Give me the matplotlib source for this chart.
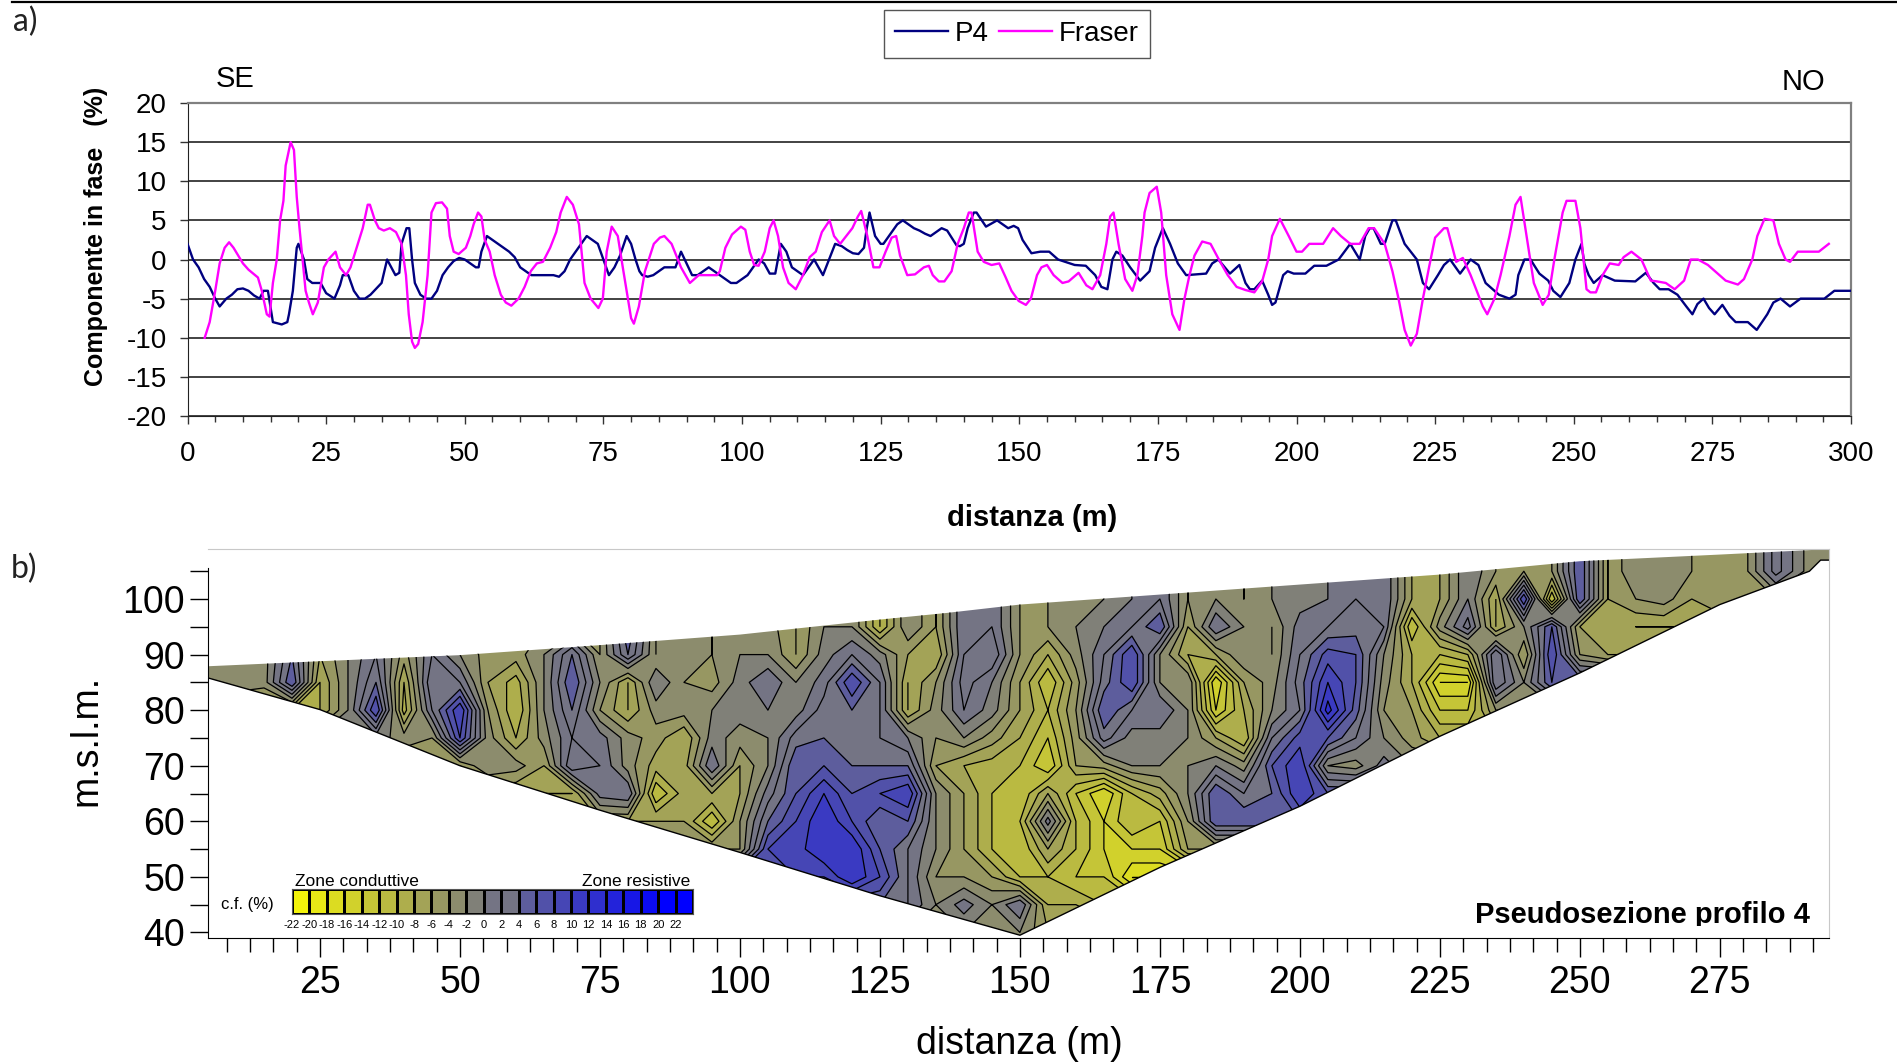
import numpy as np
import matplotlib
matplotlib.use('Agg')
import matplotlib.pyplot as plt
from matplotlib.colors import LinearSegmentedColormap
from matplotlib.patches import Polygon
from matplotlib.lines import Line2D
from matplotlib.transforms import Bbox

W, H = 1897, 1063
plt.rcParams['font.family'] = ['Liberation Sans', 'DejaVu Sans']
plt.rcParams['axes.unicode_minus'] = False

# ---- panel a) profile readings
p4_x = [0,1,2,3,4,5,5.8,7,8,9,10,11,12,13,13.7,14.5,15.4,17,18,18.3,19,19.7,20,21,21.6,22.5,24,25,26.5,27.5,28,29,30,31,32,33,35,
        36,37.5,38.2,38.6,39.5,40,40.5,41,42,43,44,45,46,47,48,49,50,51,52,52.5,53,54,55,56,57,58,59,60,61,62,66,67,68,69,70,71,72,
        73,74,75,76,77,78,79.2,80,80.8,81.5,82,83,84,85,86,88,88.5,89,90,91,92,93,94,95,96,97,98,99,100,101,102,103,104,105,
        106,107,108,109,110,111,113,114.6,116.8,118,119,120,121,122,122.5,123,124,125,125.5,127,128,129,130,131,132,133,134,135,136,137,
        138.7,139.3,140,140.7,141.8,142.3,144,146,148,149,149.8,150.6,152.2,153.8,155.4,157,160,162,163.7,164.8,165.9,166.8,167.5,168.6,
        170,171.8,173.5,174.5,175.9,177.2,178.6,180.1,183.7,184.8,185.9,188,189.7,190.8,191.6,192.4,193.8,194.9,195.6,196.2,197.6,198.4,
        199.5,201.6,203.2,205.4,207.6,209.7,211.4,212.4,213.2,213.9,215.2,215.9,217.3,217.9,219.5,220.6,221.7,222.8,223.9,225.5,226.6,
        227.7,229.5,231.4,232.8,234.1,236.5,238.4,239.5,240,241.1,242.2,243.8,245.4,246.3,247.6,249.2,250.3,251.4,251.9,252.7,253.6,
        255.2,257.4,261.1,263,264.4,265.5,267.1,268.7,270.3,271.4,272.3,273.4,274.4,275.4,276.8,278.1,279.2,281.4,283,284.9,286,287.3,
        289,290.9,295.2,297,300]
p4_y = [2,0,-1,-2.5,-3.5,-5,-6,-5,-4.5,-3.8,-3.7,-4,-4.6,-5,-4,-4,-8,-8.3,-8,-7,-4,1.5,2,0,-2.5,-3,-3,-4.3,-5,-3.3,-2,-2,-4,-5,-5,-4.5,-3,
        0,-2,-1.7,2,4,4,0,-3,-4.5,-5,-5,-4,-2,-1,-0.2,0.2,0,-0.5,-1,-1,1,3,2.5,2,1.5,1,0.3,-1,-1.5,-2,-2,-2.2,-1.5,0,1,2,3,
        2.5,2,0,-2,-1,0.5,3,2,0,-1.5,-2,-2.2,-2,-1.5,-1,-1,0,1,-0.5,-2,-2,-1.5,-1,-1.5,-2,-2.5,-3,-3,-2.5,-2,-1,0,-0.5,-1.8,
        -1.8,2,1,-1,-1.5,-2,0,-2,2,1.7,1.2,0.8,0.7,1.5,4,6,3,2,2,3.5,4.5,5,4.5,4,3.7,3.3,3,3.5,4,3.7,
        1.8,1.7,2,4,6,6,4.2,5,4,4.3,4,2.5,0.8,1,1,0,-0.7,-0.8,-2,-3.5,-3.8,0,1,0.5,
        -1,-2.7,-1.5,1.5,4,2,-0.5,-2,-1.8,-0.5,0,-1.8,-0.7,-3,-3.8,-3.8,-2.7,-4.5,-5.8,-5.5,-2,-1.5,
        -1.8,-1.8,-0.8,-0.8,0,2,0,3,4,4,2,2,5,5,2,1,0,-3,-3.8,-2,-0.7,
        0,-1.8,0,-0.7,-3,-4.5,-5,-4.5,-2,0,0,-1.8,-2.7,-4,-4.8,-3,0,2,-0.5,-2,-3,
        -2,-2.7,-2.8,-1.7,-3,-3.8,-3.8,-4.5,-6,-7,-5.7,-5,-6.2,-7,-5.8,-7.2,-8,-8,-9,-7,-5.5,-5,
        -6,-5,-5,-4,-4]

fraser_x = [3.1,4,5,5.8,6.7,7.5,8.3,10,11,12.7,13.4,14.3,14.8,15.4,16.1,16.7,17.3,17.7,18.6,19.2,19.7,20.2,21.3,21.9,22.6,23.5,24.6,25.4,
            26.7,27.5,28.6,29.4,30.5,31.6,32.5,32.9,33.8,34.5,35.4,36.5,37.6,38.6,39.4,39.9,40.5,41,41.6,42.4,43.3,44,44.8,45.9,46.8,47.3,
            48,48.9,50.2,51,51.6,52.4,53,53.6,54.5,55.4,56.5,57.4,58.4,59.7,60.8,61.9,63,64.1,65.4,66.5,67.3,68.4,69.5,70.6,71.6,72.7,74.1,
            74.9,75.6,76.5,77.6,78.5,79.2,80,80.5,81.4,82.5,84.1,85.2,86,87.3,89,90.6,92.2,95.5,96,97,98.2,99.8,100.6,101.4,102.2,103,104.1,
            105,105.7,106.5,107.4,108.4,109.7,111,112.2,113.3,114.4,115.8,116.6,117.7,118.8,119.9,120.9,121.5,122.6,123.7,124.8,125.9,127,
            127.8,128.5,129.8,131.2,132.8,133.7,134.4,135.5,136.5,137.8,138.9,140,140.9,141.4,142.5,143.6,145,146.4,147.5,148.6,149.9,151.2,
            152.1,153.2,154,155,156.2,157.8,158.9,160.7,162.1,163.2,164.6,165.7,166.4,167,167.9,169.1,170.4,171.3,172.2,172.6,173.5,174.8,
            175.6,176.5,177.6,178.9,179.8,180.7,181.6,183,184.5,186,187.6,189.2,190.8,192.4,193.8,194.9,195.6,197,198.6,200,201,202.3,204.8,
            206.6,208,209.7,211.4,213,214,215.9,217.3,218.4,219.5,220.6,221.7,222.8,223.9,225,226.6,227.2,228.8,230,231.4,232.5,233.6,234.4,
            235.7,236.8,238.4,239.5,240.4,241.5,242.8,244.4,245.5,246.5,248,248.7,250.3,251.2,252.3,253,254,255.2,256.5,258.1,259,260.4,262.2,
            263.9,265,266.6,268.2,269.9,271.1,272.4,274.2,277.4,279.6,280.7,282.2,283.1,284.4,286,287,288.2,289,290.4,294.2,296]
fraser_y = [-10,-8,-4,-0.5,1.5,2.2,1.5,-0.5,-1.3,-2.3,-4,-7,-7.3,-3,0,5,7.5,12,15,14,8,4,-4,-5.5,-7,-5.5,-1,0,
            1,-1,-2,-1,1.5,4,7,7,5,4,3.7,4,3.5,2,-2,-7,-10.5,-11.3,-10.8,-8,-2,6,7.2,7.3,6.5,3,
            1,0.7,1.5,3,4.5,6,5.5,2.5,1,-2,-4.5,-5.5,-5.9,-5,-3.5,-1.5,-0.5,-0.3,1.5,3.5,6,8,7,4.5,-3,-5,-6.2,
            -5,1,4.2,3,-1,-4,-7.5,-8.2,-6,-1.5,2,2.8,3,2,-1,-3,-2,-2,-1.5,1.5,3.2,4.2,3.8,1,-0.7,-0.8,1,
            4,5,3,-1,-3,-3.8,-2,0.3,1,3.5,5,3,2,3,4,5.5,6.2,3,-1,-1,1,2.8,
            3,0.5,-2,-1.9,-1,-0.8,-2,-2.8,-2.8,-1.5,2,4,6,6,1,-0.3,-0.7,-0.5,-2.2,-4,-5.3,-5.8,
            -5,-2,-1,-0.7,-2,-3,-2.8,-1.7,-3.3,-3.8,-2,2,5.5,6,2,-2.5,-4,-2,3,6,8.5,9.3,
            6,-2,-7,-9,-5,-2,0.5,2.3,2,0,-2,-3.5,-3.9,-4.2,-2.8,0,3,5.2,3,1,1,2,2,
            4,3,2,2,4,4,2,-1.5,-5,-9,-11,-9.5,-5,-1,2.8,4,4,-0.3,0.2,-2,-4,-6,-7,
            -5,-2,3,7,8,3,-3,-5.8,-4.5,0,6,7.5,7.5,4,-3.8,-4.2,-4.2,-2,-0.5,-0.7,0.3,1,0,
            -2.7,-2.8,-3,-3.8,-2.7,0,0,-0.7,-2.7,-3.2,-2.5,0,3,5.2,5,2,0,-0.3,1,1,2]

# ---- panel b) section values, read row by row (every 5 m along the line)
grid_x = np.arange(5, 300, 5)
row_elev = [35, 40, 45, 50, 55, 60, 65, 70, 75, 80, 85, 90, 95, 100, 105, 110]

start_40 = 145
z_40 = [-2, -2, -6]
start_45 = 125
z_45 = [4, 2, -2, 1, -2, 2, -8, -8, -10]
start_50 = 110
z_50 = [8, 8, 12, 8, 2, -4, -4, -6, -10, -10, -12, -12, -18]
start_55 = 100
z_55 = [-4, 8, 9, 12, 12, 6, 2, -2, -6, -10,
        -12, -6, -10, -14, -14, -14, -6]
start_60 = 90
z_60 = [-6, -12, -4, 4, 8, 12, 8, 4, 6, -2,
        -6, -10, -10, 1, -10, -14, -10, -12, -4, 6,
        6]
start_65 = 70
z_65 = [-8, 1, 2, -12, -7, -6, -6, 1, 6, 10,
        6, 8, 10, -2, -6, -10, -12, -6, -12, -16,
        -10, -7, -2, 6, 2, 4, 10, 6]
start_70 = 50
z_70 = [-6, -2, -3, -6, 4, 2, -3, -7, -7, 2,
        -6, -2, 6, 6, 4, 4, 4, -6, -8, -9,
        -10, -14, -6, -5, -2, -2, -2, 0, -3, 6,
        10, -2, -3, 1, -2]
start_75 = 35
z_75 = [-1, -3, -4, 8, -3, -8, -3, 2, 1, -3,
        -5, -8, -1, -3, -2, 3, 4, 4, 2, 0,
        -4, -2, -5, -8, -12, -5, 3, -1, -1, -2,
        -6, -10, 2, 7, 6, 2, -2, -5, -8]
start_80 = 25
z_80 = [-8, -2, 8, -9, 2, 10, -4, -10, -2, 4,
        -4, -8, -3, -3, -2, -1, 0, -1, 3, 4,
        2, -8, -3, 2, -1, -6, -10, -4, 6, 2,
        2, -2, -14, -8, -2, 2, 13, 5, -4, -6,
        -12, -12, -4]
start_85 = 10
z_85 = [-2, -3, 6, -8, -2, 4, -8, 4, 2, -6,
        -9, -2, 6, -2, -8, 0, -4, -5, -1, 2,
        -2, 1, 8, 2, -8, -4, 3, 0, -6, -12,
        -5, 3, 8, -2, -2, -16, -6, -3, 3, 10,
        6, -3, -8, -16, -16, 4, -2, 6]
start_90 = 5
z_90 = [-3, -3, -3, 4, -6, -2, 2, -5, 2, -2,
        -5, -5, -2, 4, -4, 4, -4, -2, -4, -2,
        -2, -6, -1, 2, -1, -6, -8, 2, 4, -4,
        -8, -3, 2, 8, -2, -8, -6, -2, -4, 2,
        7, 6, -2, -8, -10, -8, 4, -6, 8, -4,
        -6]
start_95 = 75
z_95 = [-4, 6, -4, -2, -4, -2, -3, -6,
        -2, -2, -10, -2, -6, 2, 2, -4, -4, -2,
        0, 2, 6, -6, 2, -2, -4, 1, 2, 3,
        2, -12, -3, 3, -8, -2, 6, -6, -6, -8]
start_100 = 115
z_100 = [-2, -2, -10, -2, -6, 2, 2, -4, -4, -2,
         -2, 0, 2, -4, -2, -4, -2, -1, 0, 2,
         2, -6, -6, 0, -8, 8, -12, 6, -6, -4,
         -3, -6, -4]
start_105 = 165
z_105 = [-2, 0, 2, -4, -2, -4, -2, -1, 0, 2,
         2, -6, -6, 0, -4, -4, -4, 6, -6, -2,
         -2, -4, -4, -4, 3, -2, -2]

row_start = [start_40, start_40, start_45, start_50, start_55, start_60, start_65, start_70,
             start_75, start_80, start_85, start_90, start_95, start_100, start_105, start_105]
row_vals = [z_40, z_40, z_45, z_50, z_55, z_60, z_65, z_70,
            z_75, z_80, z_85, z_90, z_95, z_100, z_105, z_105]

surface_x = [5, 25, 50, 75, 100, 125, 137, 150, 175, 200, 225, 250, 275, 293, 295]
surface_y = [87.9, 88.8, 89.9, 91.7, 93.6, 96.3, 97.5, 99, 100.8, 102.6, 104.4, 106.8, 108, 108.9, 109]
base_x = [5, 25, 50, 75, 100, 125, 150, 175, 200, 225, 250, 275, 291, 293, 295]
base_y = [85.8, 80.1, 70, 62, 54.4, 46.6, 39.5, 51.7, 62.7, 75.3, 86.7, 99, 105, 107, 107]

scale_vals = list(range(-22, 24, 2))
x2_major = list(range(25, 300, 25))
y2_major = list(range(40, 110, 10))
y2_minor = list(range(45, 110, 10))


def fx(p):
    return p / W


def fy(p):
    return 1 - p / H


def axes_px(left, top, right, bottom):
    return fig.add_axes([fx(left), fy(bottom), (right - left) / W, (bottom - top) / H])


fig = plt.figure(figsize=(W / 100, H / 100), dpi=100)

# rule on top of the page
fig.add_artist(Line2D([fx(12), 1], [fy(1.5), fy(1.5)], color='black', lw=1.6))
fig.text(fx(13), fy(22), 'a)', fontsize=23, family=['Lato', 'DejaVu Sans'], color='#222222', va='center')
fig.text(fx(11), fy(569), 'b)', fontsize=23, family=['Lato', 'DejaVu Sans'], color='#222222', va='center')

# ---- a)
ax = axes_px(187.5, 103, 1851, 416)
ax.plot(p4_x, p4_y, color='#000080', lw=1.7, label='P4', zorder=3)
ax.plot(fraser_x, fraser_y, color='#ff00ff', lw=1.7, label='Fraser', zorder=3)
ax.set_xlim(0, 300)
ax.set_ylim(-20, 20)
ax.set_yticks(range(-20, 25, 5))
ax.set_xticks(range(0, 325, 25))
ax.set_xticks(range(0, 305, 5), minor=True)
ax.tick_params(axis='both', which='major', labelsize=20, length=6, width=1, color='#333333', pad=9)
ax.tick_params(axis='x', which='major', pad=12)
ax.tick_params(axis='x', which='minor', length=4.5, width=1, color='#333333')
ax.grid(axis='y', color='#222222', lw=1.2)
ax.set_axisbelow(True)
for s in ['top', 'right']:
    ax.spines[s].set_color('#808080')
    ax.spines[s].set_linewidth(1.6)
for s in ['left', 'bottom']:
    ax.spines[s].set_color('#222222')

fig.text(fx(96), fy(236), 'Componente in fase   (%)', rotation=90, fontsize=18, fontweight='bold',
         ha='center', va='center')
fig.text(fx(1032), fy(518), 'distanza (m)', fontsize=21, fontweight='bold', ha='center', va='center')
fig.text(fx(235), fy(79), 'SE', fontsize=21, ha='center', va='center')
fig.text(fx(1803), fy(82), 'NO', fontsize=21, ha='center', va='center')
fig.legend(loc='center', bbox_to_anchor=(fx(1017), fy(34)), ncol=2, fontsize=20, fancybox=False,
           edgecolor='#555555', framealpha=1, borderpad=0.4, columnspacing=0.35, handlelength=1.9,
           handletextpad=0.25)

# ---- b)
bx = axes_px(208, 549, 1829, 938)
Z = np.zeros((len(row_elev), len(grid_x)))
for i, (st, vals) in enumerate(zip(row_start, row_vals)):
    j = (st - 5) // 5
    Z[i, :j] = vals[0]
    Z[i, j:j + len(vals)] = vals
    Z[i, j + len(vals):] = vals[-1]

cmap = LinearSegmentedColormap.from_list('cf', ['#ffff00', '#808078', '#0000ff'], N=23)
norm = plt.Normalize(-23, 23)
levels = np.arange(-22, 26, 2)
poly_x = surface_x + base_x[::-1]
poly_y = surface_y + base_y[::-1]
clip = Polygon(np.column_stack([poly_x, poly_y]), closed=True, transform=bx.transData,
               facecolor='none', edgecolor='none')
bx.add_patch(clip)
cf = bx.contourf(grid_x, row_elev, Z, levels=levels, cmap=cmap, norm=norm, extend='both')
cl = bx.contour(grid_x, row_elev, Z, levels=levels, colors='black', linewidths=0.9,
                negative_linestyles='solid')
cf.set_clip_path(clip)
cl.set_clip_path(clip)
bx.plot(base_x, base_y, color='black', lw=1)

bx.set_xlim(5, 294.5)
bx.set_ylim(39, 109)
bx.set_xticks(x2_major)
bx.set_xticks(np.arange(2, 71) * 25 / 6, minor=True)
bx.set_yticks(y2_major)
bx.set_yticks(y2_minor, minor=True)
bx.tick_params(axis='both', which='major', labelsize=27)
bx.tick_params(axis='x', which='major', length=13.5, width=1, pad=6)
bx.tick_params(axis='x', which='minor', length=10, width=1)
bx.tick_params(axis='y', which='both', length=13, width=1)
bx.spines['left'].set_bounds(39, 105.5)
for s in ['top', 'right']:
    bx.spines[s].set_color('#c8c8c8')

fig.text(fx(1019), fy(1044), 'distanza (m)', fontsize=27, ha='center', va='center')
fig.text(fx(86), fy(740), 'm.s.l.m.', rotation=90, fontsize=27, ha='center', va='center')
t = fig.text(fx(1810), fy(915), 'Pseudosezione profilo 4', fontsize=21, fontweight='bold', ha='right', va='center')
t.set_clip_box(Bbox([[0, H - 926], [W, H]]))
t.set_clip_on(True)

# scale strip
sx = axes_px(292, 889, 693, 914)
edges = np.array(scale_vals + [24])
sx.pcolormesh(edges, [0, 1], np.array([scale_vals]) + 1, cmap=cmap, norm=norm, edgecolors='black',
              linewidth=0.9)
sx.set_xlim(-22, 24)
sx.set_ylim(0, 1)
sx.set_xticks(scale_vals)
sx.set_xticklabels(scale_vals, fontsize=8)
sx.set_yticks([])
sx.tick_params(axis='x', length=0, pad=4)
for s in sx.spines.values():
    s.set_color('#555555')
fig.text(fx(295), fy(881), 'Zone conduttive', fontsize=12.5, va='center')
fig.text(fx(690), fy(881), 'Zone resistive', fontsize=12.5, va='center', ha='right')
fig.text(fx(221), fy(904), 'c.f. (%)', fontsize=12, va='center')

fig.savefig('out.png', dpi=100)
